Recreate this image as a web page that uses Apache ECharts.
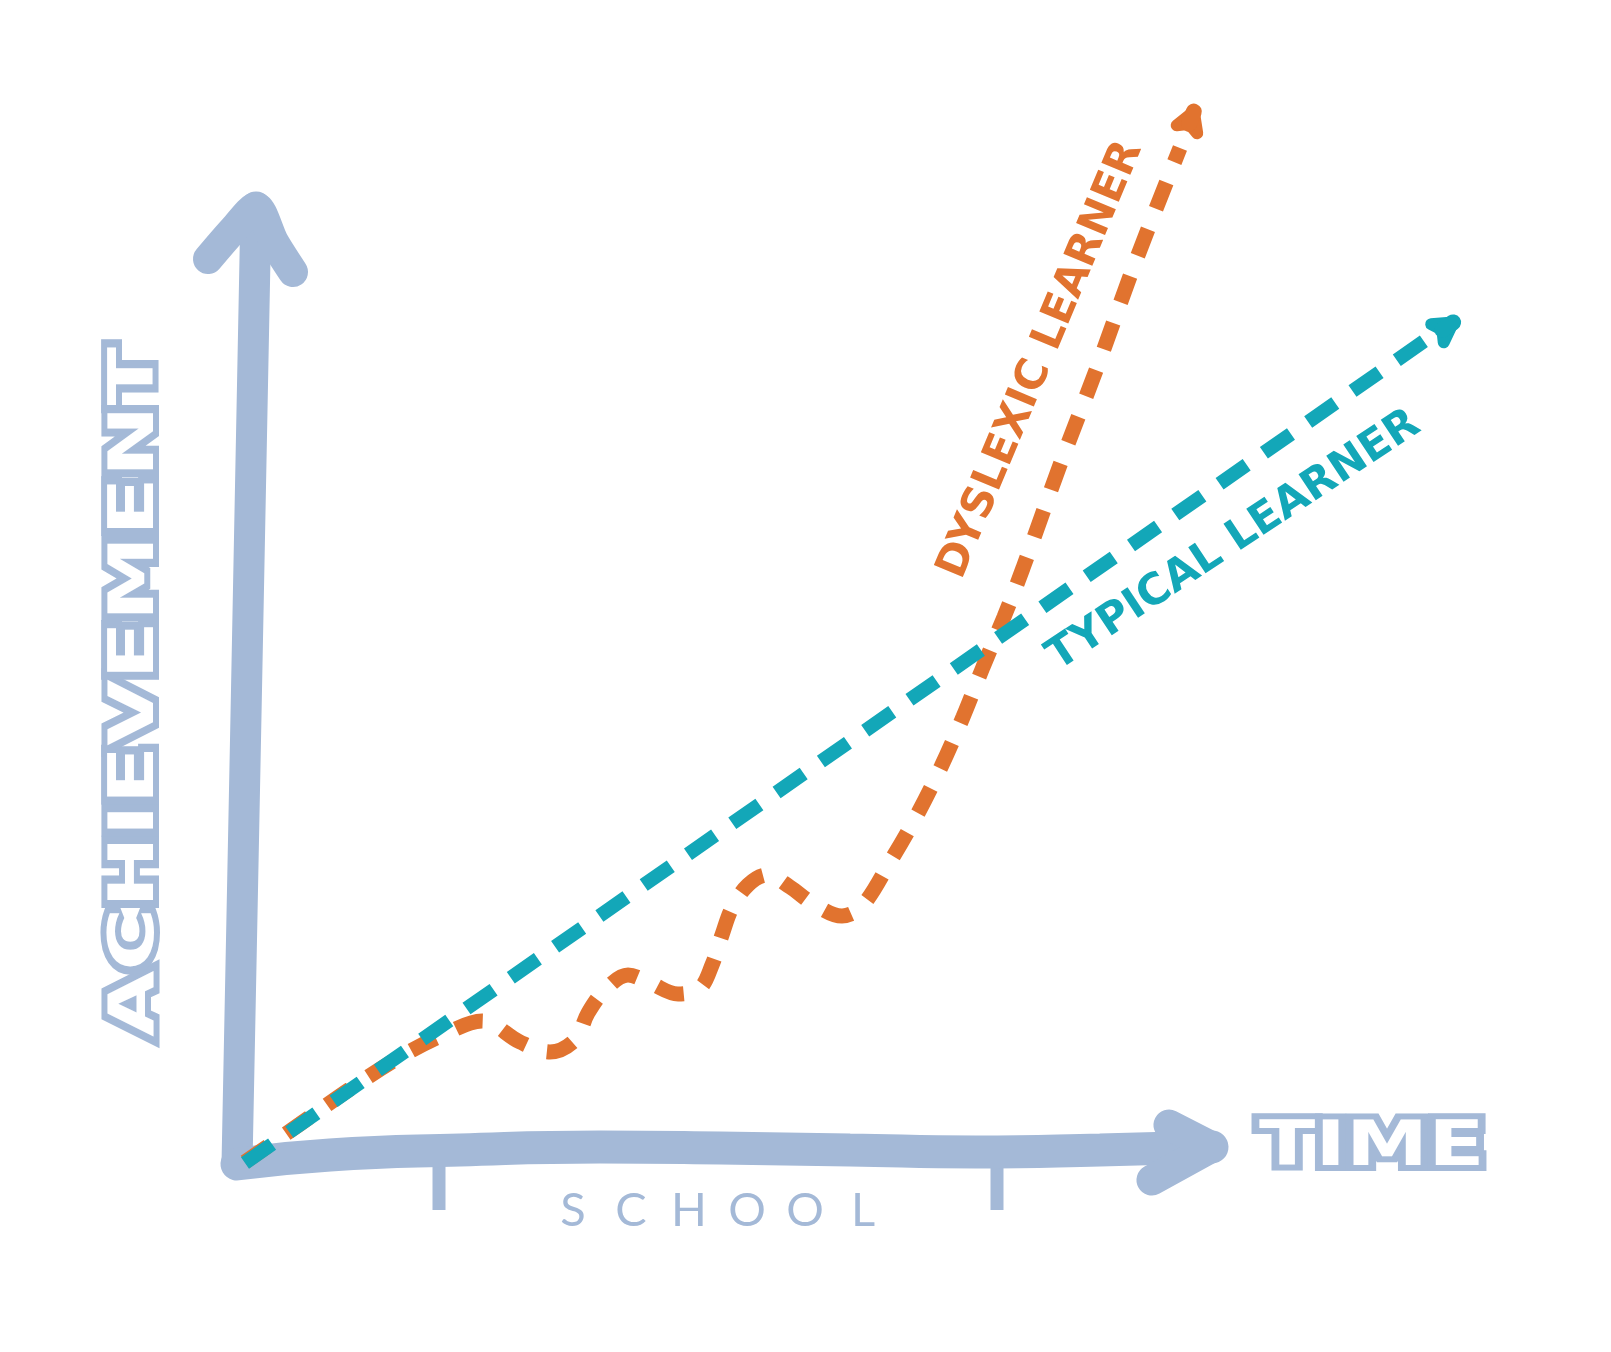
<!DOCTYPE html>
<html>
<head>
<meta charset="utf-8">
<script src="https://cdn.jsdelivr.net/npm/echarts@6/dist/echarts.min.js"></script>
<style>
html,body{margin:0;padding:0;background:#ffffff;}
#c{width:1611px;height:1352px;}
</style>
</head>
<body>
<div id="c"></div>
<script>
// ---- data (time on x, achievement on y, arbitrary units) ----
const typicalLearner = [[0.5, 0.2], [119.0, 82.8]];
const dyslexicLearner = [
  [0.5, 0.3], [6.0, 4.1], [11.0, 7.6], [16.0, 10.8], [20.5, 13.1], [24.2, 14.4],
  [28.0, 12.3], [31.0, 11.3], [33.5, 12.5], [34.8, 15.2], [36.5, 17.5], [38.8, 19.0],
  [41.0, 18.2], [43.8, 17.1], [46.0, 17.7], [47.2, 20.0], [48.2, 23.0], [49.2, 25.7],
  [50.8, 28.0], [52.7, 29.0], [55.0, 27.8], [57.2, 26.2], [60.2, 24.9], [62.2, 25.9],
  [65.0, 30.3], [67.7, 35.0], [70.1, 39.8], [72.3, 44.8], [74.3, 49.8], [76.4, 54.8],
  [78.3, 59.7], [82.0, 70.0], [85.8, 80.0], [89.5, 90.2], [94.0, 101.7]
];
const typicalArrowTip = [121.8, 84.6];
const dyslexicArrowTip = [95.6, 105.9];
const timeAxisPath = [[-0.3, 0.1], [9.0, 1.0], [22.0, 1.5], [36.0, 1.8], [48.0, 1.7], [61.0, 1.5], [73.6, 1.3], [86.0, 1.5], [97.2, 1.8]];
const achievementAxisPath = [[-0.3, 0.1], [0.6, 45.0], [1.6, 95.8]];
const timeArrowHead = [[92.9, 4.0], [97.2, 1.8], [91.2, -1.5]];
const achievementArrowHead = [[-3.2, 90.6], [-0.6, 93.6], [1.6, 95.8], [3.4, 92.3], [5.3, 89.3]];
const schoolTicks = [19.9, 75.7];
const tickSpan = [0.5, -4.5];
const xLabel = 'TIME';
const yLabel = 'ACHIEVEMENT';
const schoolLabel = 'SCHOOL';
const typicalLabel = 'TYPICAL LEARNER';
const dyslexicLabel = 'DYSLEXIC LEARNER';

// ---- styles ----
const BLUE = '#A4B9D7';
const TEAL = '#13A7B8';
const ORANGE = '#E1732F';

const chart = echarts.init(document.getElementById('c'), null, {renderer: 'canvas'});
const base = {type: 'line', symbol: 'none', showSymbol: false, clip: false, silent: true, animation: false};

// arrowhead drawn through the cartesian scale (tip point + the point it comes from),
// built from thick round strokes so it reads as a solid rounded head
function arrowRender(params, api) {
  const tip = api.coord([api.value(0), api.value(1)]);
  const from = api.coord([api.value(2), api.value(3)]);
  const color = api.value(4) === 0 ? TEAL : ORANGE;
  let dx = tip[0] - from[0], dy = tip[1] - from[1];
  const len = Math.sqrt(dx * dx + dy * dy);
  dx /= len; dy /= len;
  const nx = -dy, ny = dx;
  const L = 25, W = 11;
  const t = [tip[0] - 6 * dx, tip[1] - 6 * dy];
  const w1 = [tip[0] - L * dx + W * nx, tip[1] - L * dy + W * ny];
  const w2 = [tip[0] - L * dx - W * nx, tip[1] - L * dy - W * ny];
  const back = [tip[0] - 19 * dx, tip[1] - 19 * dy];
  return {type: 'group', children: [
    {type: 'polyline', shape: {points: [w1, t, w2, back, w1, t]},
      style: {fill: null, stroke: color, lineWidth: 12, lineJoin: 'round', lineCap: 'round'}},
    {type: 'line', shape: {x1: back[0], y1: back[1], x2: t[0], y2: t[1]},
      style: {fill: null, stroke: color, lineWidth: 16, lineCap: 'round'}}
  ]};
}

const option = {
  backgroundColor: '#ffffff',
  animation: false,
  // 10 px per unit, origin at pixel (240,1165); ranges padded so nothing is clamped
  grid: {left: 140, top: 85, width: 1340, height: 1180},
  xAxis: {type: 'value', min: -10, max: 124, show: false},
  yAxis: {type: 'value', min: -10, max: 108, show: false},
  series: (function () {
    const s = [];
    schoolTicks.forEach((t, i) => s.push(Object.assign({}, base, {
      name: 'school-tick-' + i, data: tickSpan.map(v => [t, v]),
      lineStyle: {color: BLUE, width: 13, cap: 'butt'}
    })));
    s.push(Object.assign({}, base, {name: 'achievement-axis', data: achievementAxisPath,
      lineStyle: {color: BLUE, width: 31, cap: 'round', join: 'round'}}));
    s.push(Object.assign({}, base, {name: 'time-axis', data: timeAxisPath, smooth: 0.5,
      lineStyle: {color: BLUE, width: 33, cap: 'round'}}));
    s.push(Object.assign({}, base, {name: 'achievement-arrow', data: achievementArrowHead, smooth: 0.3,
      lineStyle: {color: BLUE, width: 30, cap: 'round', join: 'round'}}));
    s.push(Object.assign({}, base, {name: 'time-arrow', data: timeArrowHead,
      lineStyle: {color: BLUE, width: 31, cap: 'round', join: 'round'}}));
    s.push(Object.assign({}, base, {name: dyslexicLabel, data: dyslexicLearner, smooth: 0.35,
      lineStyle: {color: ORANGE, width: 15, type: [28, 22], cap: 'butt'}}));
    s.push(Object.assign({}, base, {name: typicalLabel, data: typicalLearner,
      lineStyle: {color: TEAL, width: 14, type: [33, 21], cap: 'butt'}}));
    s.push({type: 'custom', name: 'arrowheads', silent: true, animation: false, clip: false,
      renderItem: arrowRender,
      data: [
        [typicalArrowTip[0], typicalArrowTip[1], typicalLearner[0][0], typicalLearner[0][1], 0],
        [dyslexicArrowTip[0], dyslexicArrowTip[1],
          dyslexicLearner[dyslexicLearner.length - 2][0], dyslexicLearner[dyslexicLearner.length - 2][1], 1]
      ]});
    return s;
  })()
};
chart.setOption(option);

const schoolMid = chart.convertToPixel({gridIndex: 0}, [(schoolTicks[0] + schoolTicks[1]) / 2, 0]);

const outlined = {fontFamily: '"DejaVu Sans"', fontWeight: 'bold', fontSize: 63,
  fill: '#ffffff', stroke: BLUE, lineWidth: 12, strokeFirst: true,
  align: 'center', verticalAlign: 'middle'};

chart.setOption({
  graphic: [
    {type: 'text', x: 137, y: 692, rotation: Math.PI / 2, scaleX: 1.36, z: 10, silent: true,
      style: Object.assign({}, outlined, {text: yLabel})},
    {type: 'text', x: 1259, y: 1149, scaleX: 1.31, z: 10, silent: true,
      style: Object.assign({}, outlined, {text: xLabel, align: 'left'})},
    {type: 'text', x: schoolMid[0], y: 1211, z: 10, silent: true,
      style: {text: schoolLabel.split('').map(c => '{a|' + c + '}').join(''),
        align: 'center', verticalAlign: 'middle',
        rich: {a: {width: 58, align: 'center', fontSize: 47, fontFamily: 'Lato', fill: BLUE}}}},
    {type: 'text', x: 1041, y: 360, rotation: 67.4 * Math.PI / 180, z: 10, silent: true,
      style: {text: dyslexicLabel, fontFamily: '"DejaVu Sans"', fontWeight: 'bold', fontSize: 43,
        fill: ORANGE, align: 'center', verticalAlign: 'middle'}},
    {type: 'text', x: 1234, y: 541, rotation: 33.5 * Math.PI / 180, z: 10, silent: true,
      style: {text: typicalLabel, fontFamily: '"DejaVu Sans"', fontWeight: 'bold', fontSize: 43,
        fill: TEAL, align: 'center', verticalAlign: 'middle'}}
  ]
});
</script>
</body>
</html>
